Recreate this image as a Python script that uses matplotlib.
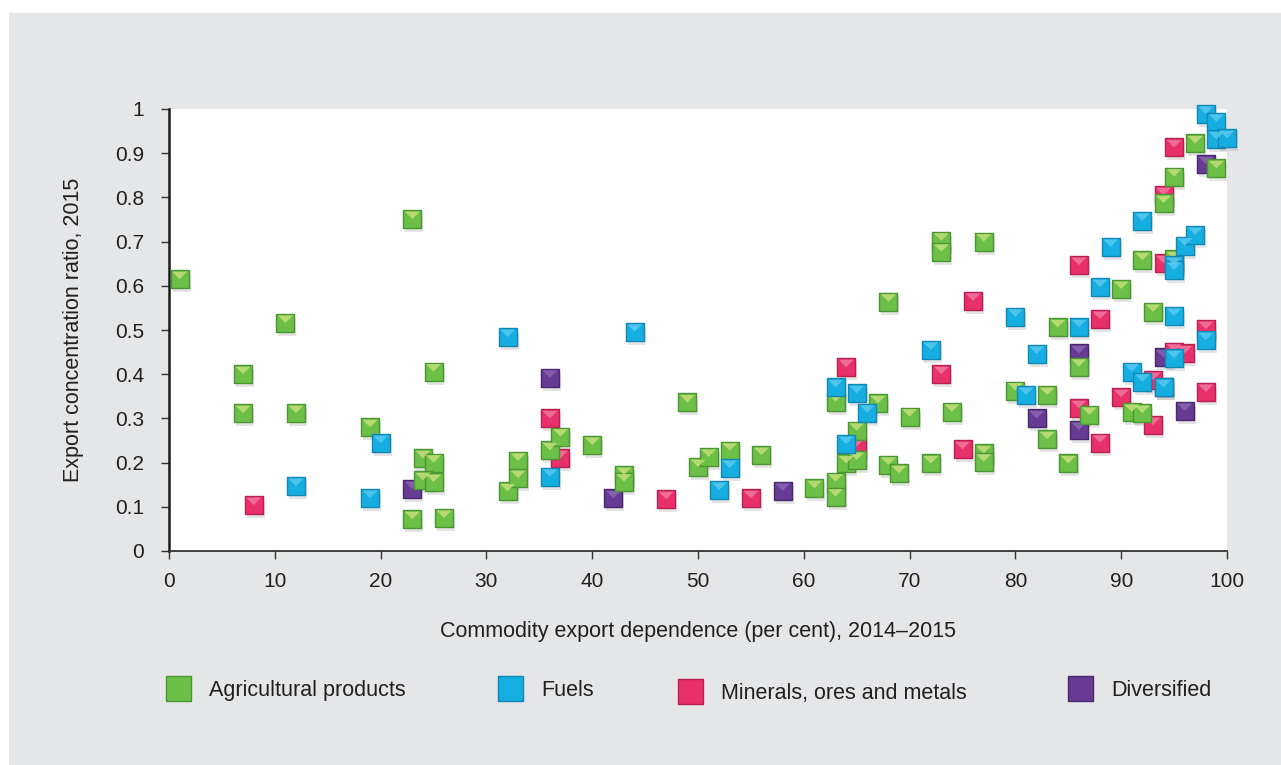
import matplotlib
matplotlib.use('Agg')
import matplotlib.pyplot as plt
from matplotlib.lines import Line2D
from matplotlib.patches import Rectangle
from matplotlib.ticker import FormatStrFormatter
from matplotlib.transforms import offset_copy

plt.rcParams['font.family'] = ['Liberation Sans', 'DejaVu Sans']

# values
ag_x = [1, 7, 7, 11, 12, 19, 23, 25, 24, 25, 24, 25, 23, 26, 32, 33, 33, 36, 37, 40,
        43, 43, 49, 50, 51, 53, 56, 61, 63, 63, 63, 64, 65, 65, 67, 68, 68, 69, 70, 72,
        73, 73, 74, 77, 77, 77, 80, 83, 83, 84, 85, 86, 87, 90, 91, 92, 92, 93, 94, 95,
        95, 97, 99]
ag_y = [0.615, 0.40, 0.312, 0.516, 0.312, 0.28, 0.751, 0.406, 0.21, 0.20, 0.16, 0.156,
        0.072, 0.075, 0.135, 0.204, 0.165, 0.228, 0.259, 0.24, 0.172, 0.157, 0.336, 0.19,
        0.213, 0.227, 0.217, 0.142, 0.157, 0.123, 0.338, 0.198, 0.206, 0.272, 0.334, 0.564,
        0.195, 0.176, 0.304, 0.198, 0.702, 0.677, 0.315, 0.70, 0.221, 0.202, 0.363, 0.353,
        0.253, 0.506, 0.198, 0.417, 0.308, 0.593, 0.315, 0.312, 0.658, 0.541, 0.787, 0.66,
        0.847, 0.922, 0.866]

fuel_x = [12, 19, 20, 32, 36, 44, 52, 53, 63, 64, 65, 66, 72, 80, 81, 82, 86, 88, 89,
          91, 92, 92, 94, 95, 95, 95, 95, 96, 97, 98, 98, 99, 99, 100]
fuel_y = [0.147, 0.12, 0.244, 0.484, 0.168, 0.496, 0.138, 0.188, 0.37, 0.242, 0.357,
          0.313, 0.455, 0.53, 0.353, 0.446, 0.506, 0.597, 0.688, 0.406, 0.383, 0.747,
          0.37, 0.647, 0.636, 0.532, 0.436, 0.691, 0.715, 0.477, 0.989, 0.971, 0.931, 0.934]

min_x = [8, 36, 37, 47, 55, 64, 65, 73, 75, 76, 86, 86, 88, 88, 90, 93, 93, 94, 94,
         95, 95, 96, 98, 98]
min_y = [0.104, 0.30, 0.21, 0.117, 0.119, 0.416, 0.236, 0.40, 0.23, 0.566, 0.647, 0.323,
         0.525, 0.245, 0.348, 0.387, 0.285, 0.651, 0.805, 0.913, 0.451, 0.447, 0.502, 0.36]

div_x = [23, 36, 42, 58, 82, 86, 86, 94, 94, 96, 98]
div_y = [0.14, 0.392, 0.119, 0.136, 0.30, 0.447, 0.274, 0.438, 0.37, 0.317, 0.875]

labels = ['Agricultural products', 'Fuels', 'Minerals, ores and metals', 'Diversified']
faces = ['#6cbf47', '#16ade1', '#e8306a', '#673a93']
edges = ['#4a9632', '#1187b5', '#b8214f', '#4a2870']
bevels = ['#c9e27c', '#5ccaef', '#f27ca2', '#8b68b3']

text_col = '#231f20'
fs = 15.5

fig = plt.figure(figsize=(12.81, 7.65), dpi=100)
fig.patch.set_facecolor('white')
fig.patches.append(Rectangle((9 / 1281, 0), 1, 1 - 13 / 765, transform=fig.transFigure,
                             facecolor='#e5e6e7', edgecolor='none', zorder=-10))

ax = fig.add_axes([169 / 1281, 214 / 765, 1058 / 1281, 442 / 765])
ax.set_facecolor('white')

shadow = offset_copy(ax.transData, fig=fig, x=2, y=-4, units='dots')
tri = [(-1, 1), (1, 1), (0, 0.0)]

series = [(div_x, div_y), (min_x, min_y), (ag_x, ag_y), (fuel_x, fuel_y)]
order = [3, 2, 0, 1]
for k, (xs, ys) in zip(order, series):
    z = 3 + order.index(k)
    ax.scatter(xs, ys, marker='s', s=175, color='#888888', alpha=0.22, linewidths=0,
               transform=shadow, clip_on=False, zorder=2)
    ax.scatter(xs, ys, marker='s', s=150, facecolor=faces[k], edgecolor=edges[k],
               linewidths=1.0, clip_on=False, zorder=z)
    ax.scatter(xs, ys, marker=tri, s=115, facecolor=bevels[k], edgecolor='none',
               alpha=0.8, clip_on=False, zorder=z + 0.1)

ax.set_xlim(0, 100)
ax.set_ylim(0, 1)
ax.set_xticks(range(0, 101, 10))
ax.set_yticks([i / 10 for i in range(11)])
ax.yaxis.set_major_formatter(FormatStrFormatter('%g'))

for s in ['top', 'right']:
    ax.spines[s].set_visible(False)
ax.spines['left'].set_linewidth(1.8)
ax.spines['left'].set_color('#1a1a1a')
ax.spines['bottom'].set_linewidth(1.3)
ax.spines['bottom'].set_color('#333333')

ax.tick_params(axis='both', direction='out', length=6, width=1, color='#333333',
               labelsize=15, labelcolor=text_col)
ax.tick_params(axis='x', pad=9)
ax.tick_params(axis='y', pad=12)

ax.set_xlabel('Commodity export dependence (per cent), 2014\u20132015', fontsize=fs,
              color=text_col, labelpad=22)
ax.set_ylabel('Export concentration ratio, 2015', fontsize=fs, color=text_col,
              labelpad=22)

# legend entries placed one by one to follow the uneven spacing
leg_x = [163 / 1281, 495 / 1281, 675 / 1281, 1065 / 1281]
leg_y = [0.098, 0.098, 0.094, 0.098]
for k in range(4):
    h = Line2D([], [], marker='s', linestyle='none', markersize=18,
               markerfacecolor=faces[k], markeredgecolor=edges[k], markeredgewidth=1)
    leg = fig.legend(handles=[h], labels=[labels[k]], loc='center left',
                     bbox_to_anchor=(leg_x[k], leg_y[k]), frameon=False, fontsize=fs,
                     borderpad=0, borderaxespad=0, handlelength=1.4, handletextpad=0.75)
    for t in leg.get_texts():
        t.set_color(text_col)

fig.savefig('out.png', dpi=100)
